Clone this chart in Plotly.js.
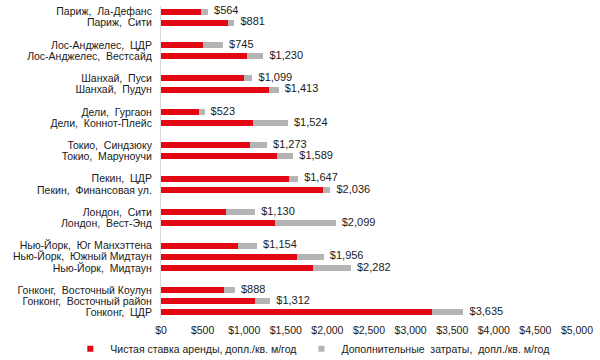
<!DOCTYPE html>
<html>
<head>
<meta charset="utf-8">
<script src="https://cdn.plot.ly/plotly-3.0.1.min.js"></script>
<style>html,body{margin:0;padding:0;background:#fff;}#chart{width:600px;height:360px;}</style>
</head>
<body>
<div id="chart"></div>
<script>
// Categories in display order (top to bottom); null = group spacer
const categories = [
  "Париж, Ла-Дефанс", "Париж, Сити", null,
  "Лос-Анджелес, ЦДР", "Лос-Анджелес, Вестсайд", null,
  "Шанхай, Пуси", "Шанхай, Пудун", null,
  "Дели, Гургаон", "Дели, Коннот-Плейс", null,
  "Токио, Синдзюку", "Токио, Маруноучи", null,
  "Пекин, ЦДР", "Пекин, Финансовая ул.", null,
  "Лондон, Сити", "Лондон, Вест-Энд", null,
  "Нью-Йорк, Юг Манхэттена", "Нью-Йорк, Южный Мидтаун", "Нью-Йорк, Мидтаун", null,
  "Гонконг, Восточный Коулун", "Гонконг, Восточный район", "Гонконг, ЦДР"
];
// Total occupancy cost (label values)
const totalCost = [
  564, 881, null,
  745, 1230, null,
  1099, 1413, null,
  523, 1524, null,
  1273, 1589, null,
  1647, 2036, null,
  1130, 2099, null,
  1154, 1956, 2282, null,
  888, 1312, 3635
];
// Net rent (red)
const netRent = [
  477, 809, null,
  501, 1030, null,
  1002, 1294, null,
  461, 1110, null,
  1074, 1394, null,
  1535, 1947, null,
  785, 1374, null,
  929, 1631, 1823, null,
  753, 1130, 3253
];
const seriesNames = ["Чистая ставка аренды, допл./кв. м/год", "Дополнительные  затраты,  допл./кв. м/год"];
const seriesColors = ["#e30613", "#b4b4b4"];
const xTickVals = [0, 500, 1000, 1500, 2000, 2500, 3000, 3500, 4000, 4500, 5000];

// unique spacer labels
let sp = 0;
const cats = categories.map(c => c === null ? " ".repeat(++sp) : c);
const tickText = cats.map(c => c.replace(", ", ",  "));
const extra = totalCost.map((t, i) => t === null ? null : t - netRent[i]);
const fmt = v => "$" + v.toLocaleString("en-US");
const labels = totalCost.map(t => t === null ? "" : fmt(t));

const fam = "Liberation Sans, Arial, sans-serif";
const font = {family: fam, size: 10.5, color: "#1a1a1a"};

const traces = [
  {type: "bar", orientation: "h", y: cats, x: netRent, name: seriesNames[0],
   marker: {color: seriesColors[0]}, hoverinfo: "skip", showlegend: false},
  {type: "bar", orientation: "h", y: cats, x: extra, name: seriesNames[1],
   marker: {color: seriesColors[1]}, hoverinfo: "skip", showlegend: false},
  {type: "scatter", mode: "text", y: cats, x: totalCost, text: labels.map(s => s ? "  " + s : s),
   textposition: "middle right", textfont: {family: fam, size: 11, color: "#1a1a1a"},
   showlegend: false, hoverinfo: "skip", cliponaxis: false},
  // legend entries (small square swatches)
  {type: "scatter", mode: "markers", x: [null], y: [cats[0]], name: seriesNames[0],
   marker: {symbol: "square", size: 6, color: seriesColors[0]}, hoverinfo: "skip"},
  {type: "scatter", mode: "markers", x: [null], y: [cats[0]], name: seriesNames[1],
   marker: {symbol: "square", size: 6, color: seriesColors[1]}, hoverinfo: "skip"}
];

const layout = {
  width: 600, height: 360,
  margin: {l: 161, r: 23, t: 6, b: 42, autoexpand: false},
  paper_bgcolor: "#fff", plot_bgcolor: "#fff",
  barmode: "stack", bargap: 0.47,
  font: font,
  showlegend: true,
  legend: {orientation: "h", x: -0.218, xanchor: "left",
           y: -0.145, yanchor: "bottom",
           font: {family: fam, size: 10.5, color: "#1a1a1a"}, itemwidth: 30, traceorder: "normal",
           bgcolor: "rgba(0,0,0,0)"},
  xaxis: {range: [0, 5000], tickvals: xTickVals, ticktext: xTickVals.map(fmt),
          showgrid: false, zeroline: false, showline: false, ticks: "", ticklabelstandoff: 4,
          tickfont: {family: fam, size: 10.5, color: "#1a1a1a"}, fixedrange: true},
  yaxis: {type: "category", categoryorder: "array", categoryarray: cats,
          range: [cats.length - 0.5, -0.5],
          tickmode: "array", tickvals: cats, ticktext: tickText,
          showgrid: false, zeroline: false, showline: true, linecolor: "#d9d9d9", linewidth: 1,
          ticks: "", ticklabelstandoff: 6, tickfont: {family: fam, size: 10.5, color: "#1a1a1a"},
          fixedrange: true}
};

Plotly.newPlot("chart", traces, layout, {displayModeBar: false, staticPlot: true});
</script>
</body>
</html>
